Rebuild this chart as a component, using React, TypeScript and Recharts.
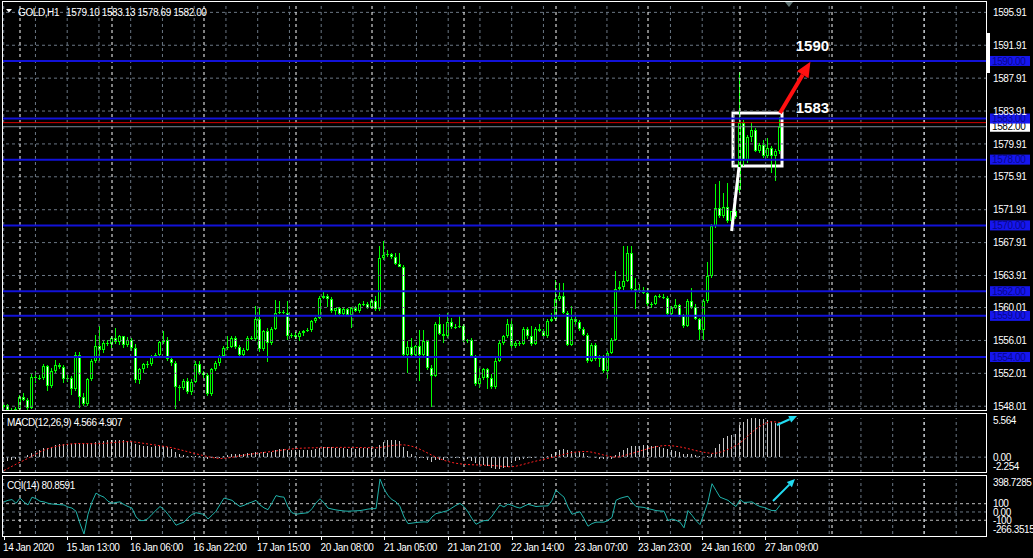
import React from "react";
import { ComposedChart, Bar, Line, XAxis, YAxis, ReferenceLine, ReferenceArea, ReferenceDot } from "recharts";

// GOLD H1 candles, bars 0..194 (14 Jan 20:00 .. 27 Jan 11:00)
const opens = [
  1547.9, 1548.2, 1547.5, 1547.3, 1547.7, 1549.1, 1548.8, 1547.8, 1551.6, 1551.4,
  1551.5, 1552.9, 1550.5, 1552.3, 1553.0, 1552.8, 1551.3, 1551.5, 1550.1, 1554.3,
  1549.1, 1548.3, 1551.3, 1553.5, 1555.3, 1554.9, 1555.7, 1555.6, 1556.3, 1555.8,
  1556.5, 1555.4, 1556.1, 1555.1, 1551.2, 1552.5, 1553.1, 1553.2, 1554.1, 1554.3,
  1555.8, 1556.1, 1553.8, 1553.3, 1550.3, 1550.2, 1551.1, 1549.7, 1551.0, 1553.1,
  1552.0, 1551.8, 1549.5, 1552.5, 1553.3, 1554.1, 1555.1, 1555.2, 1556.3, 1555.2,
  1554.2, 1554.9, 1556.3, 1556.2, 1558.6, 1555.0, 1557.2, 1555.7, 1557.4, 1559.4,
  1559.5, 1559.4, 1556.5, 1556.7, 1556.4, 1556.9, 1557.1, 1557.3, 1558.4, 1558.8,
  1561.2, 1561.4, 1561.0, 1559.6, 1559.9, 1559.2, 1559.8, 1559.1, 1560.0, 1559.6,
  1560.4, 1560.5, 1560.0, 1560.8, 1559.8, 1566.0, 1566.4, 1566.5, 1566.1, 1565.3,
  1565.0, 1554.3, 1555.2, 1554.2, 1555.3, 1554.2, 1555.9, 1552.7, 1551.7, 1558.0,
  1556.8, 1556.6, 1558.2, 1557.6, 1557.7, 1557.8, 1555.9, 1556.1, 1554.1, 1550.7,
  1551.5, 1552.5, 1551.5, 1550.3, 1553.5, 1555.7, 1556.5, 1558.0, 1555.3, 1555.7,
  1555.6, 1557.4, 1556.6, 1555.6, 1557.4, 1557.2, 1556.5, 1558.4, 1558.6, 1561.0,
  1561.4, 1559.4, 1555.5, 1558.6, 1558.2, 1557.4, 1556.7, 1553.5, 1555.5, 1553.7,
  1554.1, 1552.3, 1554.5, 1556.1, 1562.3, 1562.5, 1563.3, 1566.7, 1562.3, 1561.9,
  1562.2, 1561.8, 1560.4, 1560.5, 1561.4, 1561.3, 1561.2, 1559.2, 1560.0, 1560.3,
  1559.0, 1557.8, 1560.8, 1560.1, 1558.6, 1557.3, 1560.8, 1563.8, 1569.9, 1572.1,
  1571.1, 1572.3, 1570.5, 1571.7, 1574.3, 1582.4, 1578.0, 1580.8, 1581.6, 1579.0,
  1579.8, 1578.4, 1579.4, 1578.5, 1579.1,
];
const highs = [
  1548.4, 1548.3, 1547.8, 1547.9, 1549.4, 1549.6, 1549.0, 1551.9, 1552.3, 1551.8,
  1553.2, 1553.0, 1552.6, 1553.6, 1553.3, 1553.0, 1551.8, 1551.7, 1554.6, 1554.6,
  1549.6, 1551.5, 1553.7, 1556.7, 1557.8, 1556.0, 1556.1, 1556.6, 1557.5, 1556.7,
  1556.6, 1556.4, 1556.3, 1555.6, 1552.7, 1553.3, 1553.5, 1554.3, 1554.5, 1556.0,
  1557.1, 1556.4, 1554.0, 1553.5, 1550.6, 1551.3, 1551.4, 1551.3, 1553.5, 1553.5,
  1552.3, 1552.0, 1552.7, 1553.5, 1554.3, 1555.3, 1556.5, 1556.5, 1556.6, 1555.4,
  1555.1, 1556.5, 1556.5, 1560.2, 1560.1, 1557.3, 1557.5, 1557.6, 1560.9, 1560.8,
  1559.7, 1560.8, 1556.9, 1557.0, 1557.2, 1557.3, 1557.5, 1558.5, 1558.9, 1561.4,
  1562.0, 1561.6, 1561.3, 1560.0, 1560.1, 1559.9, 1559.9, 1560.1, 1560.2, 1560.6,
  1560.8, 1560.7, 1561.0, 1561.4, 1567.5, 1568.1, 1567.0, 1566.7, 1566.6, 1566.6,
  1565.2, 1556.0, 1556.3, 1555.5, 1557.3, 1557.3, 1556.1, 1553.0, 1558.2, 1559.2,
  1558.0, 1559.4, 1558.8, 1558.0, 1559.1, 1558.0, 1556.2, 1556.3, 1554.3, 1552.7,
  1552.7, 1552.7, 1551.9, 1554.1, 1555.9, 1556.7, 1558.6, 1558.6, 1556.0, 1556.0,
  1557.6, 1557.7, 1557.8, 1557.6, 1558.0, 1557.4, 1558.6, 1559.4, 1563.4, 1563.0,
  1563.0, 1559.6, 1560.2, 1559.0, 1558.5, 1557.6, 1556.9, 1555.7, 1555.7, 1554.3,
  1554.3, 1554.7, 1556.3, 1564.4, 1563.2, 1567.5, 1567.5, 1567.5, 1563.6, 1562.9,
  1562.5, 1562.4, 1560.7, 1561.5, 1561.7, 1561.6, 1561.4, 1560.2, 1561.0, 1560.4,
  1559.2, 1561.0, 1562.4, 1560.4, 1558.8, 1561.0, 1565.6, 1570.2, 1575.0, 1575.4,
  1573.9, 1575.2, 1571.8, 1572.9, 1588.7, 1582.8, 1581.0, 1582.6, 1581.8, 1580.0,
  1580.4, 1580.6, 1579.6, 1579.3, 1583.13,
];
const lows = [
  1547.4, 1547.2, 1546.9, 1547.0, 1547.6, 1548.6, 1547.5, 1547.6, 1550.9, 1551.2,
  1551.3, 1549.8, 1550.2, 1552.0, 1552.6, 1550.8, 1551.0, 1549.4, 1549.8, 1547.8,
  1548.0, 1548.1, 1551.0, 1553.3, 1553.5, 1554.6, 1555.4, 1555.2, 1555.5, 1555.5,
  1555.1, 1555.2, 1554.7, 1550.9, 1550.8, 1552.1, 1552.7, 1553.0, 1554.0, 1554.1,
  1555.5, 1553.5, 1552.9, 1547.7, 1548.6, 1550.0, 1549.4, 1549.3, 1550.8, 1551.8,
  1551.5, 1549.2, 1549.3, 1552.3, 1553.0, 1553.9, 1554.8, 1555.0, 1555.0, 1554.0,
  1553.9, 1554.7, 1556.0, 1556.0, 1554.6, 1554.7, 1553.4, 1555.4, 1557.2, 1559.2,
  1559.2, 1556.0, 1556.3, 1556.1, 1556.0, 1556.6, 1557.0, 1557.1, 1558.2, 1558.6,
  1561.0, 1560.0, 1559.4, 1559.2, 1559.0, 1559.0, 1558.9, 1557.6, 1559.5, 1559.4,
  1560.2, 1559.8, 1559.9, 1559.6, 1559.6, 1565.8, 1566.2, 1566.0, 1565.2, 1564.9,
  1554.1, 1552.1, 1554.0, 1554.0, 1551.1, 1554.0, 1552.5, 1547.9, 1551.5, 1556.6,
  1555.7, 1556.4, 1557.5, 1557.4, 1557.5, 1555.8, 1555.7, 1554.0, 1550.5, 1550.3,
  1551.3, 1550.1, 1550.1, 1550.1, 1553.3, 1555.5, 1556.3, 1555.1, 1555.1, 1555.4,
  1555.4, 1556.3, 1555.4, 1555.4, 1557.0, 1556.3, 1556.3, 1558.3, 1558.4, 1560.8,
  1559.2, 1555.3, 1555.3, 1557.9, 1557.2, 1556.5, 1553.3, 1553.4, 1553.5, 1552.9,
  1552.1, 1551.3, 1554.3, 1555.9, 1562.0, 1562.2, 1563.1, 1562.0, 1559.8, 1561.8,
  1561.7, 1560.2, 1560.0, 1560.3, 1561.2, 1561.0, 1559.0, 1559.0, 1559.8, 1558.8,
  1557.5, 1557.6, 1559.9, 1558.5, 1556.1, 1556.0, 1560.6, 1563.6, 1569.7, 1570.9,
  1570.9, 1570.3, 1569.4, 1570.8, 1574.0, 1577.2, 1577.6, 1580.2, 1578.9, 1578.8,
  1578.2, 1578.2, 1576.3, 1575.4, 1578.69,
];
const closes = [
  1548.2, 1547.5, 1547.3, 1547.7, 1549.1, 1548.8, 1547.8, 1551.6, 1551.4, 1551.5,
  1552.9, 1550.5, 1552.3, 1553.0, 1552.8, 1551.3, 1551.5, 1550.1, 1554.3, 1549.1,
  1548.3, 1551.3, 1553.5, 1555.3, 1554.9, 1555.7, 1555.6, 1556.3, 1555.8, 1556.5,
  1555.4, 1556.1, 1555.1, 1551.2, 1552.5, 1553.1, 1553.2, 1554.1, 1554.3, 1555.8,
  1556.1, 1553.8, 1553.3, 1550.3, 1550.2, 1551.1, 1549.7, 1551.0, 1553.1, 1552.0,
  1551.8, 1549.5, 1552.5, 1553.3, 1554.1, 1555.1, 1555.2, 1556.3, 1555.2, 1554.2,
  1554.9, 1556.3, 1556.2, 1558.6, 1555.0, 1557.2, 1555.7, 1557.4, 1559.4, 1559.5,
  1559.4, 1556.5, 1556.7, 1556.4, 1556.9, 1557.1, 1557.3, 1558.4, 1558.8, 1561.2,
  1561.4, 1561.0, 1559.6, 1559.9, 1559.2, 1559.8, 1559.1, 1560.0, 1559.6, 1560.4,
  1560.5, 1560.0, 1560.8, 1559.8, 1566.0, 1566.4, 1566.5, 1566.1, 1565.3, 1565.0,
  1554.3, 1555.2, 1554.2, 1555.3, 1554.2, 1555.9, 1552.7, 1551.7, 1558.0, 1556.8,
  1556.6, 1558.2, 1557.6, 1557.7, 1557.8, 1555.9, 1556.1, 1554.1, 1550.7, 1551.5,
  1552.5, 1551.5, 1550.3, 1553.5, 1555.7, 1556.5, 1558.0, 1555.3, 1555.7, 1555.6,
  1557.4, 1556.6, 1555.6, 1557.4, 1557.2, 1556.5, 1558.4, 1558.6, 1561.0, 1561.4,
  1559.4, 1555.5, 1558.6, 1558.2, 1557.4, 1556.7, 1553.5, 1555.5, 1553.7, 1554.1,
  1552.3, 1554.5, 1556.1, 1562.3, 1562.5, 1563.3, 1566.7, 1562.3, 1561.9, 1562.2,
  1561.8, 1560.4, 1560.5, 1561.4, 1561.3, 1561.2, 1559.2, 1560.0, 1560.3, 1559.0,
  1557.8, 1560.8, 1560.1, 1558.6, 1557.3, 1560.8, 1563.8, 1569.9, 1572.1, 1571.1,
  1572.3, 1570.5, 1571.7, 1571.0, 1582.4, 1578.0, 1580.8, 1581.6, 1579.0, 1579.8,
  1578.4, 1579.4, 1578.5, 1579.1, 1582.0,
];

// MACD(12,26,9): main (histogram) and signal (dotted)
const macdMain = [
  -0.62, -0.55, -0.4, -0.3, -0.15, 0.05, 0.25, 0.55, 0.85, 1.05,
  1.3, 1.35, 1.5, 1.7, 1.85, 1.88, 1.9, 1.92, 2.05, 1.95,
  1.8, 1.85, 2.0, 2.2, 2.3, 2.35, 2.38, 2.4, 2.42, 2.4,
  2.38, 2.3, 2.2, 1.85, 1.7, 1.6, 1.55, 1.5, 1.55, 1.6,
  1.62, 1.4, 1.15, 0.7, 0.45, 0.35, 0.15, 0.1, 0.2, 0.15,
  0.02, -0.2, -0.15, -0.1, 0.0, 0.15, 0.3, 0.45, 0.5, 0.45,
  0.45, 0.55, 0.6, 0.8, 0.65, 0.7, 0.65, 0.75, 0.95, 1.1,
  1.2, 1.05, 1.0, 0.98, 0.97, 0.98, 1.0, 1.08, 1.15, 1.35,
  1.45, 1.45, 1.4, 1.35, 1.3, 1.28, 1.22, 1.25, 1.22, 1.25,
  1.28, 1.25, 1.28, 1.22, 1.75, 2.15, 2.4, 2.5, 2.45, 2.35,
  1.4, 0.9, 0.45, 0.2, -0.05, -0.15, -0.4, -0.7, -0.4, -0.35,
  -0.35, -0.15, -0.1, -0.1, -0.08, -0.22, -0.3, -0.5, -0.9, -1.1,
  -1.15, -1.25, -1.55, -1.62, -1.65, -1.55, -1.4, -0.9, -0.6, -0.45,
  -0.3, -0.15, -0.1, -0.15, 0.05, 0.02, 0.1, 0.45, 0.8, 1.0,
  1.1, 0.95, 0.85, 0.8, 0.7, 0.55, 0.2, 0.05, -0.1, -0.2,
  -0.25, -0.3, -0.2, 0.25, 0.75, 0.95, 1.3, 1.55, 1.6, 1.65,
  1.7, 1.68, 1.62, 1.55, 1.45, 1.3, 1.15, 0.95, 0.85, 0.7,
  0.5, 0.45, 0.4, 0.3, 0.15, 0.05, 0.2, 0.5, 1.3, 1.9,
  2.7, 2.95, 3.2, 3.3, 4.5, 5.0, 5.47, 5.564, 5.55, 5.47,
  5.38, 5.23, 5.1, 4.9, 4.566,
];
const macdSignal = [
  -1.9, -1.6, -1.3, -1.0, -0.72, -0.45, -0.15, 0.15, 0.45, 0.75,
  1.0, 1.2, 1.38, 1.52, 1.65, 1.76, 1.84, 1.9, 1.93, 1.94,
  1.93, 1.92, 1.91, 1.91, 1.93, 1.96, 2.0, 2.05, 2.1, 2.15,
  2.19, 2.21, 2.2, 2.13, 2.04, 1.95, 1.87, 1.79, 1.71, 1.62,
  1.53, 1.44, 1.33, 1.2, 1.06, 0.91, 0.76, 0.62, 0.48, 0.34,
  0.2, 0.07, -0.05, -0.14, -0.2, -0.18, -0.11, -0.02, 0.09, 0.19,
  0.28, 0.37, 0.45, 0.53, 0.6, 0.67, 0.74, 0.81, 0.88, 0.96,
  1.04, 1.11, 1.17, 1.22, 1.26, 1.29, 1.31, 1.32, 1.33, 1.35,
  1.36, 1.37, 1.38, 1.38, 1.39, 1.39, 1.39, 1.38, 1.37, 1.36,
  1.35, 1.35, 1.34, 1.33, 1.38, 1.46, 1.56, 1.65, 1.71, 1.75,
  1.74, 1.67, 1.54, 1.35, 1.12, 0.85, 0.56, 0.27, 0.0, -0.24,
  -0.45, -0.62, -0.76, -0.87, -0.95, -1.01, -1.05, -1.08, -1.1, -1.12,
  -1.14, -1.16, -1.19, -1.23, -1.28, -1.33, -1.37, -1.36, -1.28, -1.15,
  -1.0, -0.85, -0.7, -0.56, -0.43, -0.3, -0.17, -0.04, 0.1, 0.25,
  0.4, 0.54, 0.65, 0.73, 0.78, 0.8, 0.78, 0.7, 0.57, 0.43,
  0.29, 0.16, 0.05, 0.0, 0.08, 0.22, 0.38, 0.54, 0.7, 0.87,
  1.04, 1.2, 1.35, 1.48, 1.58, 1.64, 1.65, 1.61, 1.54, 1.45,
  1.34, 1.21, 1.07, 0.93, 0.8, 0.69, 0.6, 0.54, 0.56, 0.69,
  0.88, 1.1, 1.36, 1.66, 2.02, 2.48, 3.05, 3.55, 4.0, 4.4,
  4.7, 4.95, 5.05, 5.0, 4.907,
];

// CCI(14)
const cci = [
  122, 141, 150, 104, 168, 120, 85, 179, 160, 130,
  122, 105, 96, 92, 88, 85, 60, 47, 9, -140,
  -266.35, -28, 120, 228, 200, 179, 130, 104, 115, 122,
  90, 66, 47, -60, -104, -104, -80, -28, 20, 66,
  30, -28, -90, -160, -140, -123, -70, -30, -9, -20,
  -28, -85, -40, 9, 90, 168, 155, 141, 100, 66,
  80, 104, 120, 141, 85, 50, 28, 110, 198, 185,
  179, 60, -9, -28, -20, -15, -9, 40, 110, 160,
  110, 47, 35, 25, 18, 12, 9, 12, 14, 17,
  25, 35, 40, 40, 398.73, 280, 198, 150, 122, 66,
  -60, -141, -135, -128, -123, -120, -123, -60, -20, -9,
  5, 17, 50, 80, 104, 66, 0, -80, -149, -125,
  -104, -104, -50, 20, 85, 60, 96, 80, 60, 47,
  70, 92, 80, 66, 70, 72, 74, 141, 266, 220,
  179, 60, -28, -10, 2, -80, -172, -140, -123, -123,
  -123, -100, -66, 141, 165, 179, 190, 120, 66, 60,
  55, 40, 30, 17, 12, 9, -104, -85, -100, -123,
  -191, 17, -40, -104, -153, -20, 122, 342, 260, 179,
  160, 141, 100, 66, 149, 115, 118, 122, 90, 66,
  55, 35, 17, 17, 80.86,
];

const priceTicks = [1595.91, 1591.91, 1587.91, 1583.91, 1579.91, 1575.91, 1571.91, 1567.91, 1563.91, 1560.01, 1556.01, 1552.01, 1548.01];
const priceLevels = [1590, 1583, 1578, 1570, 1562, 1559, 1554];
const bidPrice = 1582.0;
const askPrice = 1582.5;
const macdTicks = [5.564, 0, -2.254];
const macdTickText = ["5.564", "0.00", "-2.254"];
const cciTicks = [398.7285, 100, 0, -100, -266.3515];
const cciTickText = ["398.7285", "100", "0.00", "-100", "-266.3515"];
const cciLevels = [100, -100];
const timeLabels = [
  "14 Jan 2020", "15 Jan 13:00", "16 Jan 06:00", "16 Jan 22:00", "17 Jan 15:00", "20 Jan 08:00",
  "21 Jan 05:00", "21 Jan 21:00", "22 Jan 14:00", "23 Jan 07:00", "23 Jan 23:00", "24 Jan 16:00", "27 Jan 09:00",
];
const daySeparators = [4, 27, 50, 73, 92, 115, 138, 161, 184, 207, 230];

const rows = opens.map((o, i) => ({
  i,
  open: o,
  high: highs[i],
  low: lows[i],
  close: closes[i],
  macd: macdMain[i],
  signal: macdSignal[i],
  cci: cci[i],
}));

const FONT = 'Tahoma, "Liberation Sans", Arial, sans-serif';
const GREEN = "#00ff00";
const BLUE = "#1212d8";
const GRID = "#6b7784";
const X_DOMAIN: [number, number] = [-0.25, 245.75];
// MT4 grid runs every ~31.75px, i.e. a bit under 8 bars
const gridBars = Array.from({ length: 31 }, (_, k) => k * 7.9375 - 0.075);
const labelBars = timeLabels.map((_, k) => k * 15.875);

const Candle = (props: any) => {
  const { x, y, width, height, payload } = props;
  if (!payload) return null;
  const { open, close, high, low } = payload;
  const top = Math.min(y, y + height);
  const h = Math.abs(height);
  const py = (p: number) => (high === low ? top : top + ((high - p) / (high - low)) * h);
  const cx = Math.floor(x + width / 2);
  const bTop = Math.round(py(Math.max(open, close)));
  const bBot = Math.round(py(Math.min(open, close)));
  const bh = Math.max(1, bBot - bTop);
  const bull = close >= open;
  return (
    <g shapeRendering="crispEdges">
      <rect x={cx} y={Math.round(top)} width={1} height={Math.max(1, Math.round(h))} fill={GREEN} />
      <rect x={cx - 1} y={bTop} width={3} height={bh} fill={GREEN} />
      {bh > 2 && <rect x={cx} y={bTop + 1} width={1} height={bh - 2} fill={bull ? "#000000" : "#ffffff"} />}
    </g>
  );
};

const HistBar = (props: any) => {
  const { x, y, width, height } = props;
  const top = Math.min(y, y + height);
  return (
    <rect x={Math.floor(x + width / 2)} y={top} width={1} height={Math.max(0.5, Math.abs(height))}
      fill="#c8c8c8" shapeRendering="crispEdges" />
  );
};

const makeAxisTick = (texts: string[] | null, minY: number, maxY: number) => (props: any) => {
  const { x, y, payload, index } = props;
  const cy = Math.min(maxY, Math.max(minY, y));
  const label = texts ? texts[index] : Number(payload.value).toFixed(2);
  return (
    <text x={x + 6} y={cy} dy={3.6} fill="#ffffff" fontSize={10} fontFamily={FONT} letterSpacing={-0.4}>
      {label}
    </text>
  );
};

const PriceTag = (props: any) => {
  const { viewBox, text, bg, fg } = props;
  if (!viewBox) return null;
  const x = viewBox.x + viewBox.width + 3;
  const y = viewBox.y;
  return (
    <g>
      <rect x={x} y={y - 5} width={40} height={10} fill={bg} />
      <text x={x + 2} y={y + 3.6} fill={fg} fontSize={10} fontFamily={FONT} letterSpacing={-0.4}>{text}</text>
    </g>
  );
};

const arrowShape = (color: string, w: number, head: number) => (p: any) => {
  const { x1, y1, x2, y2 } = p;
  const ang = Math.atan2(y2 - y1, x2 - x1);
  const bx = x2 - head * Math.cos(ang);
  const by = y2 - head * Math.sin(ang);
  const nx = -Math.sin(ang) * head * 0.45;
  const ny = Math.cos(ang) * head * 0.45;
  return (
    <g>
      <line x1={x1} y1={y1} x2={bx} y2={by} stroke={color} strokeWidth={w} />
      <polygon points={`${x2},${y2} ${bx + nx},${by + ny} ${bx - nx},${by - ny}`} fill={color} />
    </g>
  );
};

const TimeTick = (props: any) => {
  const { x, y, index } = props;
  return (
    <g>
      <line x1={Math.floor(x) + 0.5} x2={Math.floor(x) + 0.5} y1={y + 3} y2={y + 6} stroke="#ffffff" />
      <text x={x - 1} y={y + 17} fill="#ffffff" fontSize={10} fontFamily={FONT} letterSpacing={-0.4}>
        {timeLabels[index]}
      </text>
    </g>
  );
};

const verticalGrid = (prefix: string) => [
  ...gridBars.map((b) => (
    <ReferenceLine key={`${prefix}g${b}`} x={b} stroke={GRID} strokeDasharray="3 3" ifOverflow="hidden" />
  )),
  ...daySeparators.map((b) => (
    <ReferenceLine key={`${prefix}s${b}`} x={b} stroke="#ffffff" strokeDasharray="3 3" ifOverflow="hidden" />
  )),
];

export default function App() {
  return (
    <div style={{ position: "absolute", left: 0, top: 0, width: 1033, height: 558, background: "#000", overflow: "hidden", fontFamily: FONT }}>
      <div style={{ position: "absolute", left: 0, top: 0 }}>
        <ComposedChart width={1033} height={414} data={rows} margin={{ top: 3, right: 0, bottom: 3, left: 3 }}>
          <XAxis type="number" dataKey="i" domain={X_DOMAIN} allowDataOverflow hide />
          <YAxis orientation="right" width={46} domain={[1547.43, 1597.05]} allowDataOverflow ticks={priceTicks}
            interval={0} tickLine={false} axisLine={false} tickSize={0} tickMargin={0}
            tick={makeAxisTick(null, -100, 1000)} />
          {priceTicks.map((t) => (
            <ReferenceLine key={`h${t}`} y={t} stroke={GRID} strokeDasharray="3 3" />
          ))}
          {verticalGrid("m")}
          <Bar dataKey={(d: any) => [d.low, d.high]} barSize={3} isAnimationActive={false}
            shape={(p: any) => <Candle {...p} />} />
          <ReferenceLine y={askPrice} stroke="#d40000" />
          <ReferenceLine y={bidPrice} stroke="#7a8796"
            label={<PriceTag text={bidPrice.toFixed(2)} bg="#ffffff" fg="#000000" />} />
          {priceLevels.map((l) => (
            <ReferenceLine key={`l${l}`} y={l} stroke={BLUE} strokeWidth={2}
              label={<PriceTag text={l.toFixed(2)} bg="#1616ee" fg="#07078c" />} />
          ))}
          <ReferenceArea x1={182.25} x2={194.5} y1={1577.23} y2={1583.68} fill="none" fillOpacity={0}
            stroke="#ffffff" strokeWidth={3} />
          <ReferenceLine segment={[{ x: 181.9, y: 1569.32 }, { x: 183.75, y: 1577.1 }]} stroke="#ffffff" strokeWidth={3} />
          <ReferenceLine segment={[{ x: 194, y: 1583.68 }, { x: 201.6, y: 1589.9 }]} stroke="#ff0000"
            shape={arrowShape("#ff1010", 4, 15)} />
          <ReferenceDot x={202.1} y={1591.82} r={1} fill="none" stroke="none"
            label={{ value: "1590", position: "center", fill: "#ffffff", fontSize: 15, fontWeight: "bold", fontFamily: FONT }} />
          <ReferenceDot x={202.1} y={1584.28} r={1} fill="none" stroke="none"
            label={{ value: "1583", position: "center", fill: "#ffffff", fontSize: 15, fontWeight: "bold", fontFamily: FONT }} />
        </ComposedChart>
      </div>

      <div style={{ position: "absolute", left: 0, top: 413 }}>
        <ComposedChart width={1033} height={61} data={rows} margin={{ top: 5, right: 0, bottom: 1, left: 3 }}>
          <XAxis type="number" dataKey="i" domain={X_DOMAIN} allowDataOverflow hide />
          <YAxis orientation="right" width={46} domain={[-2.254, 5.564]} allowDataOverflow ticks={macdTicks}
            interval={0} tickLine={false} axisLine={false} tickSize={0} tickMargin={0}
            tick={makeAxisTick(macdTickText, 7.7, 53.7)} />
          <ReferenceLine y={0} stroke={GRID} strokeDasharray="3 3" />
          {verticalGrid("d")}
          <Bar dataKey="macd" barSize={1} fill="#c8c8c8" isAnimationActive={false}
            shape={(p: any) => <HistBar {...p} />} />
          <Line type="linear" dataKey="signal" stroke="#ff2020" strokeWidth={1} strokeDasharray="2 2"
            dot={false} isAnimationActive={false} />
          <ReferenceLine segment={[{ x: 193.25, y: 4.57 }, { x: 198.25, y: 5.85 }]} stroke="#20d8f0"
            ifOverflow="visible" shape={arrowShape("#22dcf2", 2, 8)} />
        </ComposedChart>
      </div>

      <div style={{ position: "absolute", left: 0, top: 475 }}>
        <ComposedChart width={1033} height={83} data={rows} margin={{ top: 4, right: 0, bottom: 0, left: 3 }}>
          <XAxis type="number" dataKey="i" domain={X_DOMAIN} allowDataOverflow height={24} ticks={labelBars}
            interval={0} tickLine={false} axisLine={false} tickSize={0} tickMargin={0}
            tick={(p: any) => <TimeTick {...p} />} />
          <YAxis orientation="right" width={46} domain={[-266.3515, 398.7285]} allowDataOverflow ticks={cciTicks}
            interval={0} tickLine={false} axisLine={false} tickSize={0} tickMargin={0}
            tick={makeAxisTick(cciTickText, 7.7, 54.7)} />
          <ReferenceLine y={0} stroke={GRID} strokeDasharray="3 3" />
          {cciLevels.map((l) => (
            <ReferenceLine key={`c${l}`} y={l} stroke="#c0c0c0" strokeDasharray="3 3" />
          ))}
          {verticalGrid("c")}
          <Line type="linear" dataKey="cci" stroke="#20b2aa" strokeWidth={1} dot={false} isAnimationActive={false} />
          <ReferenceLine segment={[{ x: 192.25, y: 132.7 }, { x: 197.75, y: 398.7 }]} stroke="#20d8f0"
            ifOverflow="visible" shape={arrowShape("#22dcf2", 2, 8)} />
        </ComposedChart>
      </div>

      <svg width={1033} height={558} style={{ position: "absolute", left: 0, top: 0, pointerEvents: "none" }}>
        <g fill="none" stroke="#ffffff" strokeWidth={1} shapeRendering="crispEdges">
          <rect x={2.5} y={1.5} width={984} height={409} />
          <rect x={2.5} y={413.5} width={984} height={59} />
          <rect x={2.5} y={475.5} width={984} height={61} />
        </g>
        <rect x={987} y={33} width={3} height={40} fill="#ffffff" />
        <polygon points="785,2 793,2 789,7" fill="#5f7373" />
        <polygon points="6,9 12,9 9,12.5" fill="#ffffff" />
        <text x={18} y={15.5} fill="#ffffff" fontSize={10} fontFamily={FONT} letterSpacing={-0.4}>GOLD,H1</text>
        <text x={66} y={15.5} fill="#ffffff" fontSize={10} fontFamily={FONT} letterSpacing={-0.4}>
          1579.10 1583.13 1578.69 1582.00
        </text>
        <text x={7} y={425.5} fill="#ffffff" fontSize={10} fontFamily={FONT} letterSpacing={-0.4}>
          MACD(12,26,9) 4.566 4.907
        </text>
        <text x={7} y={488.5} fill="#ffffff" fontSize={10} fontFamily={FONT} letterSpacing={-0.4}>
          CCI(14) 80.8591
        </text>
      </svg>
    </div>
  );
}
